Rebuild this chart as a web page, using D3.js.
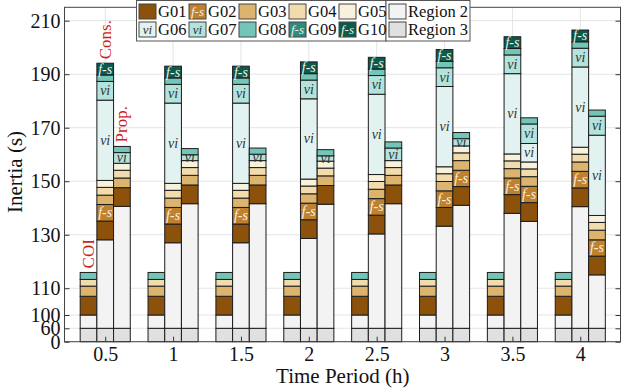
<!DOCTYPE html>
<html><head><meta charset="utf-8">
<script src="https://cdn.jsdelivr.net/npm/d3@7"></script>
<style>
body{margin:0;background:#fff}
svg{display:block;font-family:"Liberation Serif","Times New Roman",serif}
</style></head><body>
<svg id="chart" width="621" height="392"></svg>
<script>
// Time periods (h) and their tick labels
const periods = [0.5, 1, 1.5, 2, 2.5, 3, 3.5, 4];
const periodLabels = ["0.5", "1", "1.5", "2", "2.5", "3", "3.5", "4"];
const yTicks = [0, 60, 100, 110, 130, 150, 170, 190, 210];

// Stack order, bottom to top
const seriesKeys = ["Region 3", "Region 2", "G01", "G02", "G03", "G04", "G05", "G06", "G07", "G08", "G09", "G10"];
const seriesColors = ["#e0e0e0", "#f3f3f3", "#8c510a", "#bf812d", "#dcb46e", "#f3dcab", "#f8f1dc",
                      "#e1f2f0", "#b2e3dc", "#73c5b7", "#2e8b80", "#0b5a4e"];
const seriesTags = {"G02": "f-s", "G09": "f-s", "G10": "f-s", "G06": "vi", "G07": "vi"};

// Region 3 is common to all three bars
const region3 = [60, 60, 60, 60, 60, 60, 60, 60];

// COI bar (s)
const coiRegion2 = [40, 40, 40, 40, 40, 40, 40, 40];
const coiG01 = [7.0, 7.0, 7.0, 7.0, 7.0, 7.0, 7.0, 7.0];
const coiG03 = [3.8, 3.8, 3.8, 3.8, 3.8, 3.8, 3.8, 3.8];
const coiG04 = [2.5, 2.5, 2.5, 2.5, 2.5, 2.5, 2.5, 2.5];
const coiG08 = [2.6, 2.6, 2.6, 2.6, 2.6, 2.6, 2.6, 2.6];

// Conservative bar (s)
const consRegion2 = [68.1, 67.0, 67.0, 68.6, 70.3, 73.2, 78.0, 80.5];
const consG01 = [7.0, 7.0, 7.0, 7.0, 7.0, 7.0, 7.0, 7.0];
const consG02 = [6.2, 6.2, 6.2, 6.2, 6.2, 6.2, 6.2, 6.2];
const consG03 = [3.5, 3.5, 3.5, 3.5, 3.5, 3.5, 3.5, 3.5];
const consG04 = [2.9, 2.9, 2.9, 2.9, 2.9, 2.9, 2.9, 2.9];
const consG05 = [2.6, 2.6, 2.6, 2.6, 2.6, 2.6, 2.6, 2.6];
const consG06 = [30, 30, 30, 30, 30, 30, 30, 30];
const consG07 = [7.0, 7.0, 7.0, 7.0, 7.0, 7.0, 7.0, 7.0];
const consG08 = [2.4, 2.4, 2.4, 2.4, 2.4, 2.4, 2.4, 2.4];
const consG10 = [4.4, 4.4, 4.4, 4.4, 4.4, 4.4, 4.4, 4.4];

// Proposed bar (s)
const propRegion2 = [80.6, 81.6, 81.6, 81.4, 81.6, 81.0, 75.0, 55.0];
const propG01 = [7.0, 7.0, 7.0, 7.0, 7.0, 7.0, 7.0, 7.0];
const propG02 = [0, 0, 0, 0, 0, 6.1, 6.1, 6.1];
const propG03 = [3.6, 3.6, 3.6, 3.6, 3.6, 3.6, 3.6, 3.6];
const propG04 = [2.9, 2.9, 2.9, 2.9, 2.9, 2.9, 2.9, 2.9];
const propG05 = [2.6, 2.6, 2.6, 2.6, 2.6, 2.6, 2.6, 2.6];
const propG06 = [0, 0, 0, 0, 0, 0, 6.9, 30.0];
const propG07 = [4.0, 2.2, 2.4, 2.0, 4.7, 2.7, 7.3, 7.1];
const propG08 = [2.3, 2.3, 2.3, 2.3, 2.3, 2.3, 2.3, 2.3];

const barNames = ["COI", "Cons.", "Prop."];
const legendRow1 = ["G01", "G02", "G03", "G04", "G05"];
const legendRow2 = ["G06", "G07", "G08", "G09", "G10"];
const legendRegions = ["Region 2", "Region 3"];

const zeros = periods.map(() => 0);
const barSeries = [
  {"Region 3": region3, "Region 2": coiRegion2, "G01": coiG01, "G03": coiG03, "G04": coiG04, "G08": coiG08},
  {"Region 3": region3, "Region 2": consRegion2, "G01": consG01, "G02": consG02, "G03": consG03, "G04": consG04,
   "G05": consG05, "G06": consG06, "G07": consG07, "G08": consG08, "G10": consG10},
  {"Region 3": region3, "Region 2": propRegion2, "G01": propG01, "G02": propG02, "G03": propG03, "G04": propG04,
   "G05": propG05, "G06": propG06, "G07": propG07, "G08": propG08}
];

const svg = d3.select("#chart");
const x = d3.scaleLinear().domain([0.2, 4.3]).range([64.5, 621]);
// broken value axis: the lower part is compressed
const y = d3.scaleLinear().domain([0, 60, 100, 215]).range([341.7, 328.3, 315, 7.3]);
const color = d3.scaleOrdinal().domain(seriesKeys).range(seriesColors);
const barW = 0.123; // bar width in hours
const offsets = [-1, 0, 1];

// grid
const grid = svg.append("g");
grid.selectAll("line.h").data(yTicks).join("line")
  .attr("x1", x.range()[0]).attr("x2", x.range()[1])
  .attr("y1", d => y(d)).attr("y2", d => y(d))
  .attr("stroke", "#e4e4e4").attr("stroke-width", 1);
grid.selectAll("line.v").data(periods).join("line")
  .attr("x1", d => x(d)).attr("x2", d => x(d))
  .attr("y1", y.range()[0]).attr("y2", y.range()[3])
  .attr("stroke", "#e4e4e4").attr("stroke-width", 1);

// bars
const bars = svg.append("g");
barSeries.forEach((series, b) => {
  const rows = periods.map((p, i) => {
    const r = {period: p};
    seriesKeys.forEach(k => { r[k] = series[k] ? series[k][i] : 0; });
    return r;
  });
  const stacked = d3.stack().keys(seriesKeys)(rows);
  stacked.forEach(layer => {
    const key = layer.key;
    const segs = layer.filter(d => d[1] - d[0] > 0);
    const g = bars.append("g");
    g.selectAll("rect").data(segs).join("rect")
      .attr("x", d => x(d.data.period + (offsets[b] - 0.5) * barW))
      .attr("width", d => x(d.data.period + (offsets[b] + 0.5) * barW) - x(d.data.period + (offsets[b] - 0.5) * barW))
      .attr("y", d => y(d[1]))
      .attr("height", d => y(d[0]) - y(d[1]))
      .attr("fill", color(key))
      .attr("stroke", "#1c1c1c").attr("stroke-width", 1);
    if (seriesTags[key]) {
      g.selectAll("text").data(segs).join("text")
        .attr("x", d => x(d.data.period + offsets[b] * barW))
        .attr("y", d => (y(d[0]) + y(d[1])) / 2)
        .attr("dy", "0.32em")
        .attr("text-anchor", "middle")
        .attr("font-style", "italic").attr("font-size", 14)
        .attr("fill", seriesTags[key] === "f-s" ? "#f6f0e2" : "#333")
        .text(seriesTags[key]);
    }
  });
  // bar name above the first group
  const tops = periods.map((p, i) => d3.sum(seriesKeys, k => series[k] ? series[k][i] : 0));
  const lx = x(periods[0] + offsets[b] * barW), ly = y(tops[0]) - 4;
  svg.append("text")
    .attr("transform", `translate(${lx + 5.5},${ly}) rotate(-90)`)
    .attr("fill", "#cc1f1f").attr("font-size", 17)
    .text(barNames[b]);
});

// axes
const xAxis = d3.axisBottom(x).tickValues(periods).tickFormat((d, i) => periodLabels[i])
  .tickSizeInner(-5).tickSizeOuter(0).tickPadding(5);
const yAxis = d3.axisLeft(y).tickValues(yTicks).tickSizeInner(-5).tickSizeOuter(0).tickPadding(4);
const gx = svg.append("g").attr("transform", `translate(0,${y.range()[0]})`).call(xAxis);
const gy = svg.append("g").attr("transform", `translate(${x.range()[0]},0)`).call(yAxis);
const gyr = svg.append("g").attr("transform", `translate(${x.range()[1] - 0.5},0)`)
  .call(d3.axisRight(y).tickValues(yTicks).tickSizeInner(-5).tickSizeOuter(0).tickFormat(""));
[gx, gy, gyr].forEach(g => {
  g.select(".domain").remove();
  g.selectAll(".tick line").attr("stroke", "#333");
  g.selectAll(".tick text").attr("fill", "#111").attr("font-size", 20)
    .attr("font-family", "Liberation Serif, Times New Roman, serif");
});

// frame
svg.append("rect")
  .attr("x", x.range()[0]).attr("y", y.range()[3])
  .attr("width", x.range()[1] - 0.5 - x.range()[0]).attr("height", y.range()[0] - y.range()[3])
  .attr("fill", "none").attr("stroke", "#444").attr("stroke-width", 1);

// axis titles
svg.append("text").attr("x", (x.range()[0] + x.range()[1]) / 2).attr("y", 383)
  .attr("text-anchor", "middle").attr("font-size", 21).attr("fill", "#111").text("Time Period (h)");
svg.append("text").attr("transform", "translate(22,172) rotate(-90)")
  .attr("text-anchor", "middle").attr("font-size", 21).attr("fill", "#111").text("Inertia (s)");

// legend
const legend = svg.append("g");
legend.append("rect").attr("x", 136.5).attr("y", 0.5).attr("width", 249.5).attr("height", 40.5)
  .attr("fill", "#fff").attr("stroke", "#555");
legend.append("rect").attr("x", 386).attr("y", 0.5).attr("width", 84).attr("height", 40.5)
  .attr("fill", "#fff").attr("stroke", "#555");
const legendItems = [];
legendRow1.forEach((k, c) => legendItems.push({key: k, sx: 139 + 50 * c, sy: 4}));
legendRow2.forEach((k, c) => legendItems.push({key: k, sx: 139 + 50 * c, sy: 22}));
legendRegions.forEach((k, r) => legendItems.push({key: k, sx: 389, sy: 4 + 18 * r}));
const li = legend.selectAll("g.item").data(legendItems).join("g");
li.append("rect").attr("x", d => d.sx).attr("y", d => d.sy).attr("width", 17).attr("height", 15)
  .attr("fill", d => color(d.key)).attr("stroke", "#444").attr("stroke-width", 1);
li.filter(d => seriesTags[d.key]).append("text")
  .attr("x", d => d.sx + 8.5).attr("y", d => d.sy + 7.5).attr("dy", "0.32em")
  .attr("text-anchor", "middle").attr("font-style", "italic").attr("font-size", 13)
  .attr("fill", d => seriesTags[d.key] === "f-s" ? "#f6f0e2" : "#333")
  .text(d => seriesTags[d.key]);
li.append("text").attr("x", d => d.sx + 19).attr("y", d => d.sy + 13)
  .attr("font-size", 16.5).attr("fill", "#111").text(d => d.key);
</script>
</body></html>
